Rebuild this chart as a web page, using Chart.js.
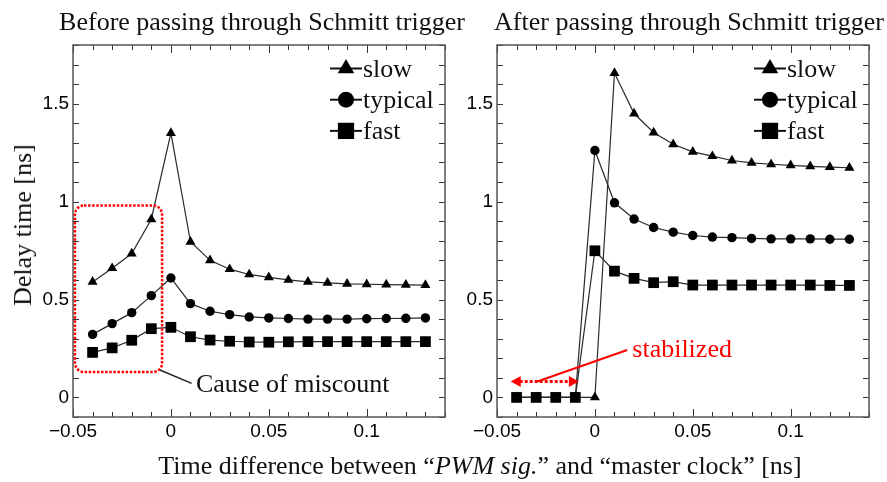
<!DOCTYPE html>
<html>
<head>
<meta charset="utf-8">
<script src="https://cdn.jsdelivr.net/npm/chart.js@4.4.1/dist/chart.umd.min.js"></script>
<style>
  body { margin: 0; background: #fff; }
  #wrap { position: relative; width: 887px; height: 482px; overflow: hidden;
          font-family: 'Liberation Serif', 'Times New Roman', serif; color: #111; }
  canvas { position: absolute; top: 0; }
  .lbl { position: absolute; font-size: 26px; line-height: 26px; white-space: nowrap; transform: translateX(-50%); }
  #ytitle { left: 23px; top: 225px; transform: translate(-50%, -50%) rotate(-90deg); }
</style>
</head>
<body>
<div id="wrap">
  <canvas id="before" width="470" height="482" style="left:0"></canvas>
  <canvas id="after" width="437" height="482" style="left:450px"></canvas>
  <div class="lbl" style="left:262px; top:9px">Before passing through Schmitt trigger</div>
  <div class="lbl" style="left:689px; top:9px">After passing through Schmitt trigger</div>
  <div class="lbl" id="ytitle">Delay time [ns]</div>
  <div class="lbl" style="left:480px; top:453px">Time difference between &ldquo;<i>PWM sig.</i>&rdquo; and &ldquo;master clock&rdquo; [ns]</div>
</div>
<script>
// time difference [ns]
const xVals = [-0.04, -0.03, -0.02, -0.01, 0, 0.01, 0.02, 0.03, 0.04, 0.05, 0.06, 0.07, 0.08, 0.09, 0.1, 0.11, 0.12, 0.13];

// delay time [ns], before the Schmitt trigger
const beforeSlow    = [0.59, 0.66, 0.735, 0.91, 1.35, 0.795, 0.70, 0.655, 0.628, 0.613, 0.60, 0.59, 0.585, 0.58, 0.578, 0.576, 0.575, 0.574];
const beforeTypical = [0.322, 0.377, 0.433, 0.52, 0.61, 0.479, 0.44, 0.423, 0.411, 0.406, 0.403, 0.40, 0.40, 0.40, 0.402, 0.403, 0.404, 0.406];
const beforeFast    = [0.23, 0.253, 0.292, 0.351, 0.358, 0.31, 0.293, 0.287, 0.283, 0.282, 0.284, 0.285, 0.285, 0.285, 0.285, 0.285, 0.285, 0.285];

// delay time [ns], after the Schmitt trigger
const afterSlow    = [0, 0, 0, 0, 0, 1.657, 1.45, 1.353, 1.293, 1.254, 1.232, 1.21, 1.198, 1.191, 1.185, 1.18, 1.176, 1.173];
const afterTypical = [0, 0, 0, 0, 1.261, 0.994, 0.911, 0.868, 0.844, 0.827, 0.819, 0.816, 0.812, 0.81, 0.81, 0.81, 0.808, 0.808];
const afterFast    = [0, 0, 0, 0, 0.749, 0.645, 0.608, 0.586, 0.591, 0.574, 0.574, 0.574, 0.574, 0.574, 0.574, 0.574, 0.572, 0.572];

const seriesNames = ['slow', 'typical', 'fast'];

const xTickVals = [-0.05, 0, 0.05, 0.1];
const xTickLabels = ['\u22120.05', '0', '0.05', '0.1'];
const yTickVals = [0, 0.5, 1, 1.5];
const yTickLabels = ['0', '0.5', '1', '1.5'];

const markerStyles = ['triangle', 'circle', 'rect'];
const markerRadius = [5.8, 4.7, 7.6];
const legendRadius = [9.5, 8, 11.5];
const serif = '"Liberation Serif", "Times New Roman", serif';

function drawMarker(ctx, style, r, x, y) {
    ctx.beginPath();
    if (style === 'triangle') {
        ctx.moveTo(x, y - r);
        ctx.lineTo(x + 0.866 * r, y + 0.5 * r);
        ctx.lineTo(x - 0.866 * r, y + 0.5 * r);
        ctx.closePath();
    } else if (style === 'circle') {
        ctx.arc(x, y, r, 0, Math.PI * 2);
    } else {
        const s = r * Math.SQRT1_2;
        ctx.rect(x - s, y - s, 2 * s, 2 * s);
    }
    ctx.fill();
}

// frame with inward ticks on all four sides
const frameTicks = {
    id: 'frameTicks',
    afterDatasetsDraw(chart) {
        const { ctx, chartArea: a, scales: { x, y } } = chart;
        ctx.save();
        ctx.strokeStyle = '#333';
        ctx.lineWidth = 1;
        ctx.beginPath();
        for (let i = -5; i <= 14; i++) {
            const px = Math.round(x.getPixelForValue(i / 100)) + 0.5;
            const len = i % 5 === 0 ? 8 : 5;
            ctx.moveTo(px, a.bottom); ctx.lineTo(px, a.bottom - len);
            ctx.moveTo(px, a.top); ctx.lineTo(px, a.top + len);
        }
        for (let i = -1; i <= 18; i++) {
            const py = Math.round(y.getPixelForValue(i / 10)) + 0.5;
            ctx.moveTo(a.left, py); ctx.lineTo(a.left + 6, py);
            ctx.moveTo(a.right, py); ctx.lineTo(a.right - 6, py);
        }
        ctx.stroke();
        ctx.strokeStyle = '#555';
        ctx.lineWidth = 1.5;
        ctx.strokeRect(a.left, a.top, a.right - a.left, a.bottom - a.top);
        ctx.restore();
    }
};

// legend in the upper right corner, line through each marker
const cornerLegend = {
    id: 'cornerLegend',
    afterDraw(chart) {
        const { ctx, chartArea: a } = chart;
        const x1 = a.right - 115, x2 = a.right - 83, mx = (x1 + x2) / 2;
        ctx.save();
        seriesNames.forEach((name, i) => {
            const yy = a.top + 23.5 + i * 31.2;
            ctx.strokeStyle = '#111';
            ctx.lineWidth = 2;
            ctx.beginPath(); ctx.moveTo(x1, yy); ctx.lineTo(x2, yy); ctx.stroke();
            ctx.fillStyle = '#000';
            drawMarker(ctx, markerStyles[i], legendRadius[i], mx, yy);
            ctx.fillStyle = '#111';
            ctx.font = '26px ' + serif;
            ctx.textBaseline = 'alphabetic';
            ctx.fillText(name, x2 + 1, yy + 8);
        });
        ctx.restore();
    }
};

// red box around the rising part and its note
const missNote = {
    id: 'missNote',
    afterDraw(chart) {
        const { ctx, scales: { x, y } } = chart;
        const l = x.getPixelForValue(-0.049), r = x.getPixelForValue(-0.0045);
        const t = y.getPixelForValue(0.98), b = y.getPixelForValue(0.13);
        ctx.save();
        ctx.strokeStyle = '#ff0000';
        ctx.lineWidth = 2.5;
        ctx.setLineDash([2.5, 1.6]);
        ctx.beginPath();
        ctx.roundRect(l, t, r - l, b - t, 9);
        ctx.stroke();
        ctx.setLineDash([]);
        ctx.strokeStyle = '#222';
        ctx.lineWidth = 1.5;
        ctx.beginPath();
        ctx.moveTo(x.getPixelForValue(-0.0056), y.getPixelForValue(0.14));
        ctx.lineTo(x.getPixelForValue(0.0106), y.getPixelForValue(0.072));
        ctx.stroke();
        ctx.fillStyle = '#111';
        ctx.font = '26px ' + serif;
        ctx.fillText('Cause of miscount', x.getPixelForValue(0.0128), y.getPixelForValue(0.03));
        ctx.restore();
    }
};

// red double arrow over the zero part and its note
const stableNote = {
    id: 'stableNote',
    afterDraw(chart) {
        const { ctx, scales: { x, y } } = chart;
        const l = x.getPixelForValue(-0.043), r = x.getPixelForValue(-0.0082), yy = y.getPixelForValue(0.081);
        ctx.save();
        ctx.strokeStyle = '#ff0000';
        ctx.fillStyle = '#ff0000';
        ctx.lineWidth = 3;
        ctx.setLineDash([3, 2]);
        ctx.beginPath(); ctx.moveTo(l + 9, yy); ctx.lineTo(r - 9, yy); ctx.stroke();
        ctx.setLineDash([]);
        ctx.beginPath();
        ctx.moveTo(l, yy); ctx.lineTo(l + 10, yy - 5.5); ctx.lineTo(l + 10, yy + 5.5); ctx.closePath();
        ctx.moveTo(r, yy); ctx.lineTo(r - 10, yy - 5.5); ctx.lineTo(r - 10, yy + 5.5); ctx.closePath();
        ctx.fill();
        ctx.lineWidth = 2;
        ctx.beginPath();
        ctx.moveTo(x.getPixelForValue(-0.0294), y.getPixelForValue(0.081));
        ctx.lineTo(x.getPixelForValue(0.0165), y.getPixelForValue(0.242));
        ctx.stroke();
        ctx.font = '26px ' + serif;
        ctx.fillText('stabilized', x.getPixelForValue(0.0191), y.getPixelForValue(0.208));
        ctx.restore();
    }
};

function makeDatasets(slow, typical, fast) {
    return [slow, typical, fast].map((vals, i) => ({
        label: seriesNames[i],
        data: xVals.map((xv, j) => ({ x: xv, y: vals[j] })),
        borderColor: '#2a2a2a',
        borderWidth: 1.2,
        pointStyle: markerStyles[i],
        pointRadius: markerRadius[i],
        pointBackgroundColor: '#000',
        pointBorderColor: '#000',
        pointBorderWidth: 0,
        tension: 0,
        order: 2 - i,
        clip: false
    }));
}

function makeChart(id, datasets, yAxisWidth, padRight, notePlugin) {
    const tickFont = { family: '"Liberation Sans", Arial, sans-serif', size: 19 };
    return new Chart(document.getElementById(id), {
        type: 'line',
        data: { datasets: datasets },
        options: {
            responsive: false,
            animation: false,
            events: [],
            devicePixelRatio: 1,
            layout: { padding: { left: 0, right: padRight, top: 45, bottom: 25 } },
            plugins: { legend: { display: false }, tooltip: { enabled: false } },
            scales: {
                x: {
                    type: 'linear',
                    min: -0.05,
                    max: 0.14,
                    grid: { display: false, drawTicks: false },
                    border: { display: false },
                    afterBuildTicks: s => { s.ticks = xTickVals.map(v => ({ value: v })); },
                    afterFit: s => { s.height = 40; },
                    ticks: {
                        font: tickFont, color: '#000', padding: 3,
                        maxRotation: 0, autoSkip: false,
                        callback: (v, i) => xTickLabels[i]
                    }
                },
                y: {
                    type: 'linear',
                    min: -0.1,
                    max: 1.8,
                    grid: { display: false, drawTicks: false },
                    border: { display: false },
                    afterBuildTicks: s => { s.ticks = yTickVals.map(v => ({ value: v })); },
                    afterFit: s => { s.width = yAxisWidth; },
                    ticks: {
                        font: tickFont, color: '#000', padding: 4,
                        autoSkip: false,
                        callback: (v, i) => yTickLabels[i]
                    }
                }
            }
        },
        plugins: [frameTicks, cornerLegend, notePlugin]
    });
}

makeChart('before', makeDatasets(beforeSlow, beforeTypical, beforeFast), 73, 25, missNote);
makeChart('after', makeDatasets(afterSlow, afterTypical, afterFast), 47, 18, stableNote);
</script>
</body>
</html>
